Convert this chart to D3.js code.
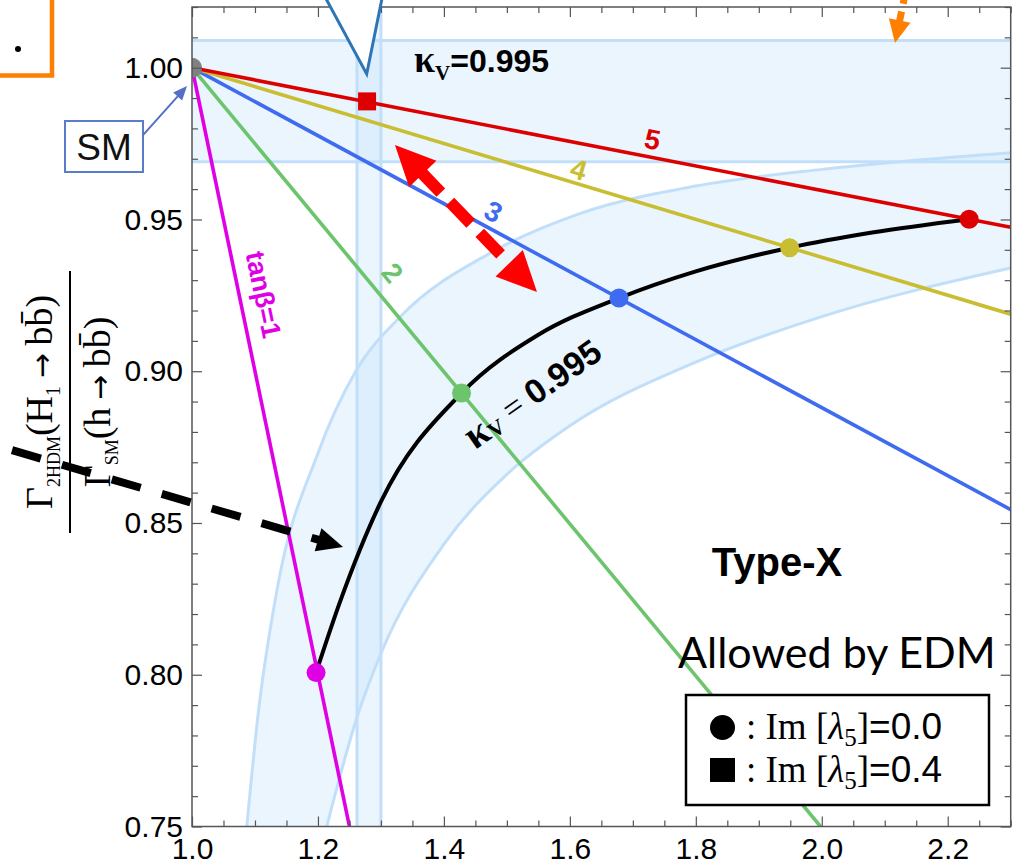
<!DOCTYPE html>
<html>
<head>
<meta charset="utf-8">
<script src="https://d3js.org/d3.v7.min.js"></script>
<style>
  html, body { margin: 0; padding: 0; background: #fff; }
  svg { display: block; }
</style>
</head>
<body>
<div id="chart"></div>
<script>
// ---- values ----
const xTicks = [1.0, 1.2, 1.4, 1.6, 1.8, 2.0, 2.2];
const yTicks = [0.75, 0.80, 0.85, 0.90, 0.95, 1.00];

const smPoint = [1.0, 1.0];

// tanβ lines, all starting at the SM point
const tanBeta = [1, 2, 3, 4, 5];
const lineEndX = [1.25, 1.998, 2.3, 2.3, 2.3];
const lineEndY = [0.75, 0.75, 0.8544, 0.9188, 0.9474];
const lineColors = ['#e000e6', '#6cc46c', '#3f6bf0', '#c9be32', '#dd0000'];
const lineLabels = ['tanβ=1', '2', '3', '4', '5'];
const lineLabelX = [1.113, 1.318, 1.4785, 1.614, 1.731];
const lineLabelY = [0.9252, 0.9324, 0.9525, 0.9664, 0.9763];

// Im[λ5]=0 points (circles) and Im[λ5]=0.4 point (square)
const dotX = [1.197, 1.428, 1.678, 1.949, 2.234];
const dotY = [0.8007, 0.8928, 0.9241, 0.9407, 0.9501];
const squareX = [1.278];
const squareY = [0.9889];

// kappa_V = 0.995 curve
const kvX = [1.197, 1.235, 1.30, 1.428, 1.55, 1.678, 1.80, 1.949, 2.08, 2.234];
const kvY = [0.8007, 0.824, 0.857, 0.8928, 0.912, 0.9241, 0.9329, 0.9407, 0.9457, 0.9501];

// light blue allowed band (upper and lower edge)
const bandUpX = [1.087, 1.105, 1.135, 1.20, 1.26, 1.331, 1.474, 1.617, 1.80, 2.0, 2.3];
const bandUpY = [0.75, 0.787, 0.828, 0.873, 0.900, 0.918, 0.939, 0.952, 0.961, 0.9665, 0.972];
const bandLoX = [1.214, 1.262, 1.30, 1.40, 1.50, 1.60, 1.80, 2.0, 2.3];
const bandLoY = [0.75, 0.786, 0.807, 0.843, 0.866, 0.882, 0.903, 0.918, 0.934];

// measured bands
const hBand = [0.969, 1.009];
const vBand = [1.262, 1.300];

// ---- layout ----
const width = 1013, height = 866;
const plot = { left: 192, right: 1010.7, top: 7, bottom: 826.5 };

const x = d3.scaleLinear().domain([1.0, 2.3]).range([plot.left, plot.right]);
const y = d3.scaleLinear().domain([0.75, 1.02]).range([plot.bottom, plot.top]);

const svg = d3.select('#chart').append('svg')
  .attr('width', width)
  .attr('height', height);

svg.append('defs').append('clipPath').attr('id', 'plot-clip')
  .append('rect')
  .attr('x', plot.left).attr('y', plot.top)
  .attr('width', plot.right - plot.left).attr('height', plot.bottom - plot.top);

const g = svg.append('g').attr('clip-path', 'url(#plot-clip)');

const bandFill = '#c8e4fc';
const bandEdge = '#c2dffa';

// horizontal band
g.append('rect')
  .attr('x', x(1.0)).attr('width', x(2.3) - x(1.0))
  .attr('y', y(hBand[1])).attr('height', y(hBand[0]) - y(hBand[1]))
  .attr('fill', bandFill).attr('fill-opacity', 0.38);
// vertical band
g.append('rect')
  .attr('x', x(vBand[0])).attr('width', x(vBand[1]) - x(vBand[0]))
  .attr('y', y(1.02)).attr('height', y(0.75) - y(1.02))
  .attr('fill', bandFill).attr('fill-opacity', 0.38);

// curved band
const up = bandUpX.map((v, i) => [v, bandUpY[i]]);
const lo = bandLoX.map((v, i) => [v, bandLoY[i]]);
const edge = d3.line().x(d => x(d[0])).y(d => y(d[1])).curve(d3.curveMonotoneX);
const bandPath = edge(up) + 'L' + edge(lo.slice().reverse()).slice(1) + 'Z';
g.append('path').attr('d', bandPath)
  .attr('fill', bandFill).attr('fill-opacity', 0.38);

// band edges
hBand.forEach(v => g.append('line')
  .attr('x1', x(1.0)).attr('x2', x(2.3)).attr('y1', y(v)).attr('y2', y(v))
  .attr('stroke', bandEdge).attr('stroke-width', 3));
vBand.forEach(v => g.append('line')
  .attr('x1', x(v)).attr('x2', x(v)).attr('y1', y(1.02)).attr('y2', y(0.75))
  .attr('stroke', bandEdge).attr('stroke-width', 3));
[up, lo].forEach(pts => g.append('path').attr('d', edge(pts))
  .attr('fill', 'none').attr('stroke', bandEdge).attr('stroke-width', 3));

// kappa_V curve
const kv = kvX.map((v, i) => [v, kvY[i]]);
g.append('path').attr('d', d3.line().x(d => x(d[0])).y(d => y(d[1])).curve(d3.curveMonotoneX)(kv))
  .attr('fill', 'none').attr('stroke', '#000').attr('stroke-width', 4);

// tanβ lines
tanBeta.forEach((tb, i) => {
  g.append('line')
    .attr('x1', x(smPoint[0])).attr('y1', y(smPoint[1]))
    .attr('x2', x(lineEndX[i])).attr('y2', y(lineEndY[i]))
    .attr('stroke', lineColors[i]).attr('stroke-width', 3.6);
});

// line labels, rotated along their line
tanBeta.forEach((tb, i) => {
  const ang = Math.atan2(y(lineEndY[i]) - y(smPoint[1]), x(lineEndX[i]) - x(smPoint[0])) * 180 / Math.PI;
  const px = x(lineLabelX[i]), py = y(lineLabelY[i]);
  g.append('text')
    .attr('transform', `translate(${px},${py}) rotate(${ang})`)
    .attr('text-anchor', 'middle')
    .attr('dominant-baseline', 'central')
    .attr('fill', lineColors[i])
    .style('font-family', '"Liberation Sans", Arial, sans-serif')
    .style('font-weight', 'bold')
    .style('font-size', i === 0 ? '27px' : '28px')
    .text(lineLabels[i]);
});

// points
g.selectAll('.dot').data(dotX).enter().append('circle')
  .attr('class', 'dot')
  .attr('cx', d => x(d)).attr('cy', (d, i) => y(dotY[i])).attr('r', 9.5)
  .attr('fill', (d, i) => lineColors[i]);
g.selectAll('.sq').data(squareX).enter().append('rect')
  .attr('class', 'sq')
  .attr('x', d => x(d) - 9).attr('y', (d, i) => y(squareY[i]) - 9)
  .attr('width', 18).attr('height', 18)
  .attr('fill', '#dd0000');
g.append('circle')
  .attr('cx', x(smPoint[0])).attr('cy', y(smPoint[1])).attr('r', 10)
  .attr('fill', '#808080');

// ---- frame and ticks ----
const frameColor = '#555';
const minorX = d3.range(1.05, 2.31, 0.05).filter(v => Math.abs(v * 5 - Math.round(v * 5)) > 1e-6);
const minorY = d3.range(0.76, 1.021, 0.01).filter(v => Math.abs(v * 20 - Math.round(v * 20)) > 1e-6);

function styleAxis(sel) {
  sel.select('.domain').remove();
  sel.selectAll('.tick line').attr('stroke', frameColor).attr('stroke-width', 1.2);
  sel.selectAll('.tick text')
    .attr('fill', '#000')
    .style('font-family', '"Liberation Sans", Arial, sans-serif')
    .style('font-size', '30px');
}

svg.append('g').attr('transform', `translate(0,${plot.bottom})`)
  .call(d3.axisBottom(x).tickValues(xTicks).tickSize(-10).tickPadding(11).tickFormat(d3.format('.1f')))
  .call(styleAxis);
svg.append('g').attr('transform', `translate(0,${plot.bottom})`)
  .call(d3.axisBottom(x).tickValues(minorX).tickSize(-6).tickFormat(''))
  .call(styleAxis);
svg.append('g').attr('transform', `translate(0,${plot.top})`)
  .call(d3.axisTop(x).tickValues(xTicks).tickSize(-10).tickFormat(''))
  .call(styleAxis);
svg.append('g').attr('transform', `translate(0,${plot.top})`)
  .call(d3.axisTop(x).tickValues(minorX).tickSize(-6).tickFormat(''))
  .call(styleAxis);
svg.append('g').attr('transform', `translate(${plot.left},0)`)
  .call(d3.axisLeft(y).tickValues(yTicks).tickSize(-10).tickPadding(9).tickFormat(d3.format('.2f')))
  .call(styleAxis);
svg.append('g').attr('transform', `translate(${plot.left},0)`)
  .call(d3.axisLeft(y).tickValues(minorY).tickSize(-6).tickFormat(''))
  .call(styleAxis);
svg.append('g').attr('transform', `translate(${plot.right},0)`)
  .call(d3.axisRight(y).tickValues(yTicks).tickSize(-10).tickFormat(''))
  .call(styleAxis);
svg.append('g').attr('transform', `translate(${plot.right},0)`)
  .call(d3.axisRight(y).tickValues(minorY).tickSize(-6).tickFormat(''))
  .call(styleAxis);

svg.append('rect')
  .attr('x', plot.left).attr('y', plot.top)
  .attr('width', plot.right - plot.left).attr('height', plot.bottom - plot.top)
  .attr('fill', 'none').attr('stroke', frameColor).attr('stroke-width', 1.5);

// ---- y axis label (rotated fraction) ----
const serif = '"Liberation Serif", "Times New Roman", serif';
const yl = svg.append('g')
  .attr('transform', 'translate(70,402) rotate(-90)')
  .style('font-family', serif)
  .style('font-size', '38px');
function ratioPart(t, lead, sub, rest) {
  t.append('tspan').text(lead);
  t.append('tspan').attr('dy', 8).style('font-size', '18px').text(sub);
  t.append('tspan').attr('dy', -8).text(rest);
}
const num = yl.append('text').attr('x', 0).attr('y', -18).attr('text-anchor', 'middle');
ratioPart(num, 'Γ', '2HDM', '(H');
num.append('tspan').attr('dy', 8).style('font-size', '20px').text('1');
num.append('tspan').attr('dy', -8).text('\u2009');
num.append('tspan').style('font-family', '"DejaVu Sans", sans-serif').style('font-size', '30px').text('→');
num.append('tspan').text('\u2009bb\u0304)');
yl.append('line').attr('x1', -131).attr('x2', 131).attr('y1', 0).attr('y2', 0)
  .attr('stroke', '#000').attr('stroke-width', 2);
const den = yl.append('text').attr('x', 0).attr('y', 40).attr('text-anchor', 'middle');
ratioPart(den, 'Γ', 'SM', '(h\u2009');
den.append('tspan').style('font-family', '"DejaVu Sans", sans-serif').style('font-size', '30px').text('→');
den.append('tspan').text('\u2009bb\u0304)');

// ---- in-plot texts ----
const sans = '"Liberation Sans", Arial, sans-serif';
const kTop = svg.append('text').attr('x', 414).attr('y', 72)
  .style('font-family', sans).style('font-weight', 'bold').style('font-size', '32px');
kTop.append('tspan').style('font-family', serif).style('font-size', '38px').text('κ');
kTop.append('tspan').attr('dy', 8).style('font-size', '21px').style('font-family', serif).text('V');
kTop.append('tspan').attr('dy', -8).text('=0.995');

const kCurve = svg.append('text')
  .attr('transform', 'translate(532,393) rotate(-35)')
  .attr('text-anchor', 'middle').attr('dominant-baseline', 'central')
  .style('font-family', sans).style('font-weight', 'bold').style('font-size', '34px');
kCurve.append('tspan').style('font-family', serif).style('font-size', '40px').text('κ');
kCurve.append('tspan').attr('dy', 8).style('font-family', serif).style('font-size', '22px').text('V');
kCurve.append('tspan').attr('dy', -8).style('font-family', serif).style('font-weight', 'normal').text(' = ');
kCurve.append('tspan').text('0.995');

svg.append('text').attr('x', 777).attr('y', 576).attr('text-anchor', 'middle')
  .style('font-family', sans).style('font-weight', 'bold').style('font-size', '40px')
  .text('Type-X');

svg.append('text').attr('x', 678).attr('y', 668)
  .style('font-family', 'Lato, "Open Sans", sans-serif').style('font-size', '43px')
  .text('Allowed by EDM');

// legend
const leg = svg.append('g');
leg.append('rect').attr('x', 686).attr('y', 695).attr('width', 303).attr('height', 110)
  .attr('fill', '#fff').attr('stroke', '#000').attr('stroke-width', 2.5);
leg.append('circle').attr('cx', 722.5).attr('cy', 727.5).attr('r', 12.5).attr('fill', '#000');
leg.append('rect').attr('x', 710).attr('y', 758).attr('width', 25).attr('height', 24).attr('fill', '#000');
[['0.0', 739], ['0.4', 782]].forEach(([val, by]) => {
  const t = leg.append('text').attr('x', 746).attr('y', by)
    .style('font-family', serif).style('font-size', '37px');
  t.append('tspan').text(': Im [');
  t.append('tspan').style('font-style', 'italic').text('λ');
  t.append('tspan').attr('dy', 7).style('font-size', '25px').text('5');
  t.append('tspan').attr('dy', -7).text(']');
  t.append('tspan').style('font-family', sans).text('=' + val);
});

// ---- overlay annotations ----
function arrow(a, b, o) {
  const dx = b[0] - a[0], dy = b[1] - a[1], len = Math.hypot(dx, dy);
  const ux = dx / len, uy = dy / len, nx = -uy, ny = ux;
  const head = (tip, dir) => {
    const bx = tip[0] - dir * ux * o.headLen, by = tip[1] - dir * uy * o.headLen;
    return [[tip[0], tip[1]], [bx + nx * o.headW, by + ny * o.headW], [bx - nx * o.headW, by - ny * o.headW]];
  };
  const s = o.double ? [a[0] + ux * o.headLen * 0.9, a[1] + uy * o.headLen * 0.9] : a;
  const e = [b[0] - ux * o.headLen * 0.9, b[1] - uy * o.headLen * 0.9];
  svg.append('line')
    .attr('x1', s[0]).attr('y1', s[1]).attr('x2', e[0]).attr('y2', e[1])
    .attr('stroke', o.color).attr('stroke-width', o.width)
    .attr('stroke-dasharray', o.dash || null);
  svg.append('polygon').attr('points', head(b, 1).join(' ')).attr('fill', o.color);
  if (o.double) svg.append('polygon').attr('points', head(a, -1).join(' ')).attr('fill', o.color);
}

// red double arrow between the κV=0.995 band and the square point
arrow([x(1.3223), y(0.9745)], [x(1.5478), y(0.9261)],
  { color: '#ff0000', width: 12, dash: '30,13', headLen: 40, headW: 19, double: true });
// black dashed arrow pointing to the curve
arrow([x(0.7142), y(0.8740)], [x(1.2398), y(0.8421)],
  { color: '#000', width: 8, dash: '30,22', headLen: 26, headW: 12 });
// orange arrow at the top
arrow([x(2.1337), y(1.0256)], [x(2.1163), y(1.0081)],
  { color: '#ff7f00', width: 7, dash: '14,8', headLen: 23, headW: 11 });

// SM callout
svg.append('rect').attr('x', 65).attr('y', 121).attr('width', 78).attr('height', 51)
  .attr('fill', '#fff').attr('stroke', '#5b7cc8').attr('stroke-width', 2);
svg.append('text').attr('x', 104).attr('y', 160).attr('text-anchor', 'middle')
  .style('font-family', sans).style('font-size', '37px').attr('fill', '#111')
  .text('SM');
arrow([x(0.9222), y(0.9778)], [x(0.99206), y(0.99397)],
  { color: '#5470c6', width: 2, headLen: 14, headW: 6 });

// speech-bubble pointer at the top
svg.append('path').attr('d', 'M324,-5 L366.7,74 L382.7,-5 Z')
  .attr('fill', '#fff').attr('stroke', '#2e75b6').attr('stroke-width', 3)
  .attr('stroke-linejoin', 'miter');

// orange box fragment at top-left
svg.append('path').attr('d', 'M52,-5 L52,75.5 L-5,75.5')
  .attr('fill', 'none').attr('stroke', '#ff7f00').attr('stroke-width', 4.5);
svg.append('circle').attr('cx', 18).attr('cy', 49).attr('r', 3).attr('fill', '#000');
</script>
</body>
</html>
